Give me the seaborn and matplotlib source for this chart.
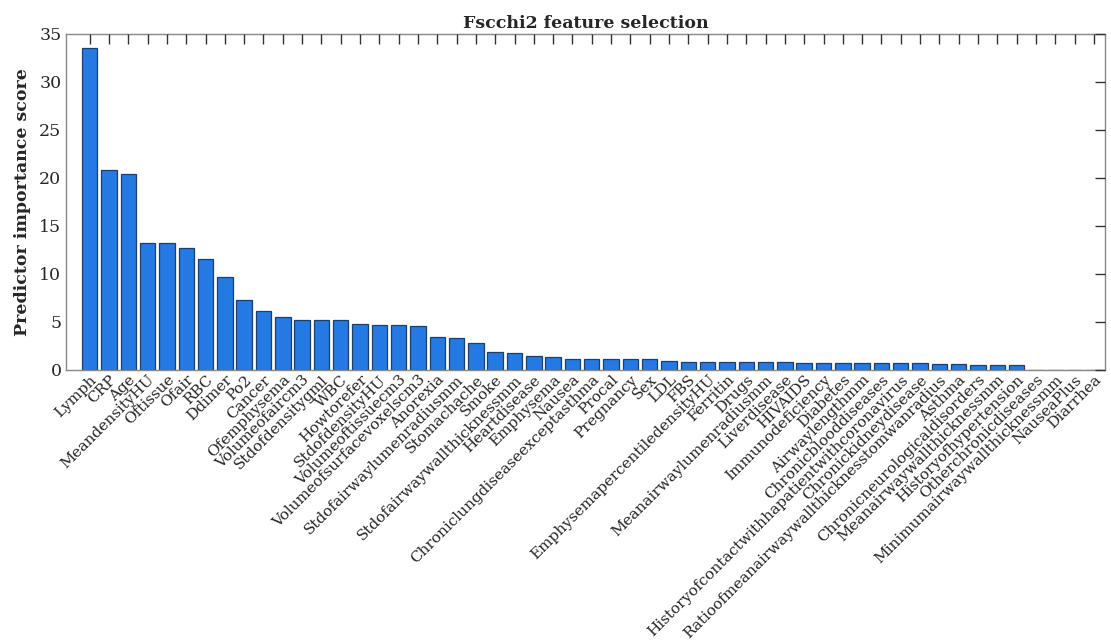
import matplotlib
matplotlib.use("Agg")
import matplotlib.pyplot as plt
import seaborn as sns
import pandas as pd

# feature names, in order of importance
features = [
    "Lymph", "CRP", "Age", "MeandensityHU", "Oftissue", "Ofair", "RBC", "Ddimer",
    "Po2", "Cancer", "Ofemphysema", "Volumeofaircm3", "Stdofdensitygml", "WBC",
    "Howtorefer", "StdofdensityHU", "Volumeoftissuecm3", "Volumeofsurfacevoxelscm3",
    "Anorexia", "Stdofairwaylumenradiusmm", "Stomachache", "Smoke",
    "Stdofairwaywallthicknessmm", "Heartdisease", "Emphysema", "Nausea",
    "Chroniclungdiseaseexceptasthma", "Procal", "Pregnancy", "Sex", "LDL", "FBS",
    "EmphysemapercentiledensityHU", "Ferritin", "Drugs", "Meanairwaylumenradiusmm",
    "Liverdisease", "HIVAIDS", "Immunodeficiency", "Diabetes", "Airwaylengthmm",
    "Chronicblooddiseases", "Historyofcontactwithhapatientwithcoronavirus",
    "Chronickidneydisease", "Ratioofmeanairwaywallthicknesstomwanradius", "Asthma",
    "Chronicneurologicaldisorders", "Meanairwaywallthicknessmm",
    "Historyofhypertension", "Otherchronicdiseases", "Minimumairwaywallthicknessmm",
    "NauseaPlus", "Diarrhea",
]

# predictor importance scores
scores = [
    33.5, 20.8, 20.4, 13.2, 13.2, 12.75, 11.6, 9.7,
    7.3, 6.1, 5.55, 5.15, 5.15, 5.15,
    4.8, 4.72, 4.65, 4.58,
    3.47, 3.33, 2.78, 1.88,
    1.73, 1.5, 1.39, 1.18,
    1.18, 1.15, 1.15, 1.12, 0.97, 0.85,
    0.83, 0.82, 0.8, 0.78,
    0.78, 0.77, 0.76, 0.74, 0.73,
    0.72, 0.7,
    0.68, 0.6, 0.58,
    0.55, 0.5,
    0.47, 0.03, 0.03,
    0.03, 0.03,
]

df = pd.DataFrame({"feature": features, "score": scores})

sns.set_style("white")
plt.rcParams["font.family"] = ["DejaVu Serif"]

fig = plt.figure(figsize=(11.11, 6.4), dpi=100)
ax = fig.add_axes([0.059, 0.422, 0.936, 0.525])

sns.barplot(data=df, x="feature", y="score", color="#2479e3", saturation=1,
            width=0.8, edgecolor="#1c3f70", linewidth=0.9, ax=ax)

ax.set_axisbelow(False)
ax.set_xlim(-1.25, len(features) - 0.4)
ax.set_ylim(0, 35)
ax.set_yticks(range(0, 36, 5))

ax.set_title("Fscchi2 feature selection", fontsize=12.5, fontweight="bold", pad=4)
ax.set_ylabel("Predictor importance score", fontsize=12.5, fontweight="bold", labelpad=6)
ax.set_xlabel("")

ax.tick_params(axis="both", direction="in", top=True, right=True, color="#333333",
               length=7, width=1)
ax.tick_params(axis="y", labelsize=12.5, pad=3)
ax.tick_params(axis="x", labelsize=11, pad=2)
plt.setp(ax.get_xticklabels(), rotation=45, ha="right", rotation_mode="anchor")

for s in ax.spines.values():
    s.set_color("#888888")
    s.set_linewidth(1)

fig.savefig("out.png", dpi=100)
